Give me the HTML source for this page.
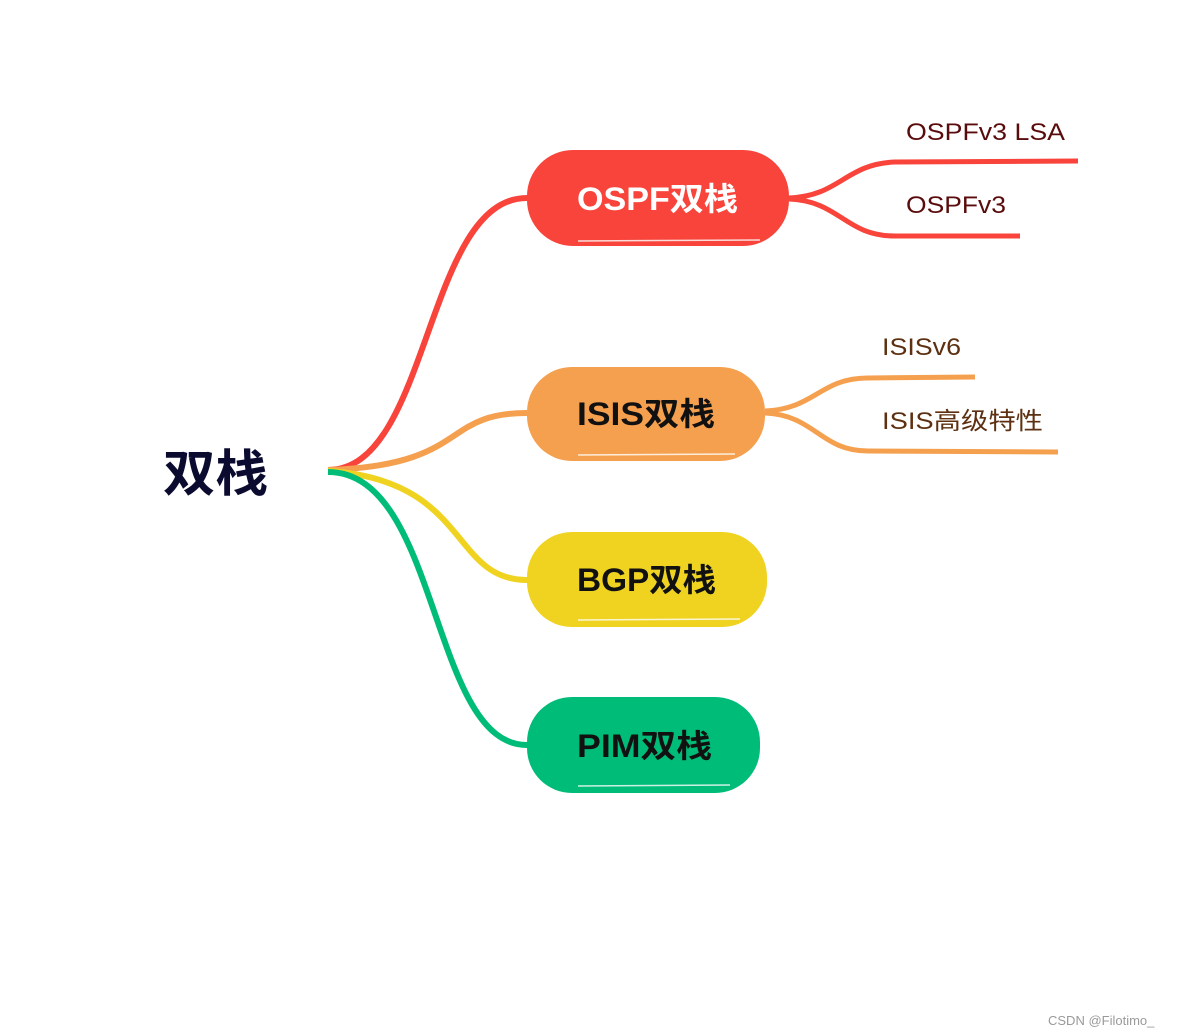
<!DOCTYPE html>
<html><head><meta charset="utf-8"><style>
html,body{margin:0;padding:0;background:#fff;}
svg{display:block;}
text{font-family:"Liberation Sans","Noto Sans CJK SC",sans-serif;}
</style></head><body>
<svg width="1178" height="1036" viewBox="0 0 1178 1036" xmlns="http://www.w3.org/2000/svg">
<rect width="1178" height="1036" fill="#fff"/>
<!-- main connectors -->
<g fill="none" stroke-linecap="butt">
<path d="M328,470 C430,470 425,198 527,198" stroke="#f8443b" stroke-width="6"/>
<path d="M328,470 C470,465 440,413 527,413" stroke="#f5a04f" stroke-width="6"/>
<path d="M328,471 C470,480 450,580 527,580" stroke="#efd320" stroke-width="6"/>
<path d="M328,472 C440,472 430,745 527,745" stroke="#00bc79" stroke-width="6"/>
</g>
<!-- OSPF children -->
<g fill="none" stroke="#f8443b" stroke-width="5">
<path d="M789,198 C840,196 845,164 895,162 L1078,161"/>
<path d="M789,199 C840,201 845,236 895,236 L1020,236"/>
</g>
<!-- ISIS children -->
<g fill="none" stroke="#f5a04f" stroke-width="5">
<path d="M765,411 C815,409 820,378 868,378 L975,377"/>
<path d="M765,413 C815,415 820,451 868,451 L1058,452"/>
</g>
<!-- nodes -->
<rect x="527" y="150" width="262" height="96" rx="46" fill="#f8443b"/>
<path d="M578,241 L760,240" stroke="#fff" stroke-width="1.5" opacity="0.8"/>
<rect x="527" y="367" width="238" height="94" rx="45" fill="#f5a04f"/>
<path d="M578,455 L735,454" stroke="#fff" stroke-width="1.5" opacity="0.8"/>
<rect x="527" y="532" width="240" height="95" rx="45" fill="#efd320"/>
<path d="M578,620 L740,619" stroke="#fff" stroke-width="1.5" opacity="0.8"/>
<rect x="527" y="697" width="233" height="96" rx="45" fill="#00bc79"/>
<path d="M578,786 L730,785" stroke="#fff" stroke-width="1.5" opacity="0.8"/>
<!-- node labels -->
<text x="577" y="210" font-size="32" font-weight="bold" fill="#fff" textLength="161" lengthAdjust="spacingAndGlyphs">OSPF双栈</text>
<text x="577" y="425" font-size="32" font-weight="bold" fill="#111" textLength="138" lengthAdjust="spacingAndGlyphs">ISIS双栈</text>
<text x="577" y="591" font-size="32" font-weight="bold" fill="#111" textLength="139" lengthAdjust="spacingAndGlyphs">BGP双栈</text>
<text x="577" y="757" font-size="32" font-weight="bold" fill="#111" textLength="135" lengthAdjust="spacingAndGlyphs">PIM双栈</text>
<!-- root -->
<text x="163" y="491" font-size="50" font-weight="bold" fill="#0b0b30" textLength="105" lengthAdjust="spacingAndGlyphs">双栈</text>
<!-- child labels -->
<text x="906" y="140" font-size="24" fill="#5a0c0c" textLength="159" lengthAdjust="spacingAndGlyphs">OSPFv3 LSA</text>
<text x="906" y="213" font-size="24" fill="#5a0c0c" textLength="100" lengthAdjust="spacingAndGlyphs">OSPFv3</text>
<text x="882" y="355" font-size="24" fill="#5c3010" textLength="79" lengthAdjust="spacingAndGlyphs">ISISv6</text>
<text x="882" y="429" font-size="24" fill="#5c3010" textLength="161" lengthAdjust="spacingAndGlyphs">ISIS高级特性</text>
<!-- watermark -->
<text x="1048" y="1025" font-size="13" fill="#9a9a9a">CSDN @Filotimo_</text>
</svg>
</body></html>
